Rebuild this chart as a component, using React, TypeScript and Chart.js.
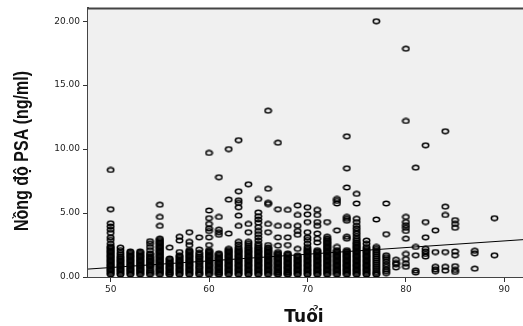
import React, { useEffect, useRef } from 'react';
import { Chart, registerables } from 'chart.js';

Chart.register(...registerables);

// Age (years) of each column of points
const ages = [50, 51, 52, 53, 54, 55, 56, 57, 58, 59, 60, 61, 62, 63, 64, 65, 66, 67, 68, 69, 70, 71, 72, 73, 74, 75, 76, 77, 78, 79, 80, 81, 82, 83, 84, 85, 87, 89];

// PSA values (ng/ml) observed at each age, same order as `ages`
const psaValues: number[][] = [
  [8.37, 5.3, 4.2, 3.95, 3.7, 3.45, 3.1, 2.9, 2.6, 2.4, 2.3, 2.2, 2.1, 2.0, 1.9, 1.8, 1.7, 1.6, 1.5, 1.4, 1.3, 1.2, 1.1, 1.0, 0.9, 0.8, 0.7, 0.6, 0.5, 0.4, 0.3, 0.2],
  [2.3, 2.1, 1.9, 1.75, 1.6, 1.5, 1.4, 1.3, 1.2, 1.1, 1.0, 0.9, 0.8, 0.7, 0.6, 0.5, 0.4, 0.3, 0.2],
  [2.0, 1.9, 1.8, 1.7, 1.6, 1.5, 1.4, 1.3, 1.2, 1.1, 1.0, 0.9, 0.8, 0.7, 0.6, 0.5, 0.4, 0.3, 0.2],
  [2.0, 1.9, 1.8, 1.7, 1.6, 1.5, 1.4, 1.3, 1.2, 1.1, 1.0, 0.9, 0.8, 0.7, 0.6, 0.5, 0.4, 0.3, 0.2],
  [2.8, 2.6, 2.35, 2.1, 1.85, 1.75, 1.6, 1.5, 1.4, 1.3, 1.2, 1.1, 1.0, 0.9, 0.8, 0.65, 0.5, 0.4, 0.3, 0.2],
  [5.65, 4.7, 4.0, 3.0, 2.9, 2.8, 2.7, 2.6, 2.5, 2.4, 2.3, 2.2, 2.1, 2.0, 1.9, 1.8, 1.7, 1.6, 1.5, 1.4, 1.3, 1.2, 1.1, 1.0, 0.9, 0.8, 0.7, 0.6, 0.5, 0.4, 0.3, 0.2],
  [2.3, 1.45, 1.35, 1.25, 1.15, 1.05, 0.95, 0.85, 0.75, 0.65, 0.55, 0.45, 0.35, 0.25, 0.2],
  [3.15, 2.85, 1.95, 1.7, 1.6, 1.5, 1.4, 1.3, 1.2, 1.1, 1.0, 0.9, 0.8, 0.7, 0.6, 0.5, 0.4, 0.3, 0.2],
  [3.5, 2.75, 2.5, 2.1, 2.0, 1.9, 1.8, 1.7, 1.6, 1.5, 1.4, 1.3, 1.2, 1.1, 1.0, 0.9, 0.8, 0.7, 0.6, 0.5, 0.4, 0.3, 0.2],
  [3.1, 2.15, 1.9, 1.75, 1.6, 1.5, 1.35, 1.2, 1.1, 0.95, 0.8, 0.7, 0.55, 0.4, 0.3, 0.2],
  [9.7, 5.2, 4.6, 4.15, 3.8, 3.6, 3.1, 2.5, 2.1, 2.0, 1.9, 1.8, 1.7, 1.6, 1.5, 1.4, 1.3, 1.2, 1.1, 1.0, 0.9, 0.8, 0.7, 0.6, 0.5, 0.4, 0.3, 0.2],
  [7.8, 4.7, 3.7, 3.5, 3.3, 1.85, 1.75, 1.65, 1.55, 1.45, 1.35, 1.25, 1.15, 1.05, 0.95, 0.85, 0.75, 0.65, 0.55, 0.45, 0.35, 0.25, 0.2],
  [10.0, 6.05, 3.4, 2.2, 2.1, 2.0, 1.9, 1.8, 1.7, 1.6, 1.5, 1.4, 1.3, 1.2, 1.1, 1.0, 0.9, 0.8, 0.7, 0.6, 0.5, 0.4, 0.3, 0.2],
  [10.7, 6.7, 6.0, 5.8, 5.45, 4.8, 4.0, 2.75, 2.55, 2.35, 2.2, 2.1, 2.0, 1.9, 1.8, 1.7, 1.6, 1.5, 1.4, 1.3, 1.2, 1.1, 1.0, 0.9, 0.8, 0.7, 0.6, 0.5, 0.4, 0.3, 0.2],
  [7.25, 4.15, 3.5, 2.75, 2.6, 2.45, 2.3, 2.2, 2.1, 2.0, 1.9, 1.8, 1.7, 1.6, 1.5, 1.4, 1.3, 1.2, 1.1, 1.0, 0.9, 0.8, 0.7, 0.6, 0.5, 0.4, 0.3, 0.2],
  [6.1, 5.05, 4.75, 4.5, 4.25, 3.9, 3.6, 3.35, 3.1, 2.85, 2.6, 2.45, 2.3, 2.2, 2.1, 2.0, 1.9, 1.8, 1.7, 1.6, 1.5, 1.4, 1.3, 1.2, 1.1, 1.0, 0.9, 0.8, 0.7, 0.6, 0.5, 0.4, 0.3, 0.2],
  [13.0, 6.9, 5.8, 5.7, 4.15, 3.5, 2.5, 2.3, 2.2, 2.1, 2.0, 1.9, 1.8, 1.7, 1.6, 1.5, 1.4, 1.3, 1.2, 1.1, 1.0, 0.9, 0.8, 0.7, 0.6, 0.5, 0.4, 0.3, 0.2],
  [10.5, 5.3, 4.0, 3.1, 2.45, 1.95, 1.85, 1.75, 1.65, 1.55, 1.45, 1.35, 1.25, 1.15, 1.05, 0.95, 0.85, 0.75, 0.65, 0.55, 0.45, 0.35, 0.25, 0.2],
  [5.25, 4.0, 3.1, 2.5, 1.85, 1.75, 1.65, 1.55, 1.45, 1.35, 1.25, 1.15, 1.05, 0.95, 0.85, 0.75, 0.65, 0.55, 0.45, 0.35, 0.25, 0.2],
  [5.6, 4.85, 4.0, 3.6, 3.3, 2.2, 1.7, 1.6, 1.5, 1.4, 1.3, 1.2, 1.1, 1.0, 0.9, 0.8, 0.7, 0.6, 0.5, 0.4, 0.3, 0.2],
  [5.45, 4.9, 4.3, 3.5, 3.1, 2.9, 2.6, 2.35, 2.2, 2.1, 2.0, 1.9, 1.8, 1.7, 1.6, 1.5, 1.4, 1.3, 1.2, 1.1, 1.0, 0.9, 0.8, 0.7, 0.6, 0.5, 0.4, 0.3, 0.2],
  [5.25, 4.85, 4.3, 4.0, 3.4, 3.0, 2.7, 2.1, 2.0, 1.9, 1.8, 1.7, 1.6, 1.5, 1.4, 1.3, 1.2, 1.1, 1.0, 0.9, 0.8, 0.7, 0.6, 0.5, 0.4, 0.3, 0.2],
  [4.3, 3.15, 3.0, 2.9, 2.8, 2.7, 2.6, 2.5, 2.4, 2.3, 2.2, 2.1, 2.0, 1.9, 1.8, 1.7, 1.6, 1.5, 1.4, 1.3, 1.2, 1.1, 1.0, 0.9, 0.8, 0.7, 0.6, 0.5, 0.4, 0.3, 0.2],
  [6.1, 5.95, 5.75, 3.65, 2.35, 2.1, 2.0, 1.9, 1.8, 1.7, 1.6, 1.5, 1.4, 1.3, 1.2, 1.1, 1.0, 0.9, 0.8, 0.7, 0.6, 0.5, 0.4, 0.3, 0.2],
  [11.0, 8.5, 7.0, 4.7, 4.55, 4.4, 3.15, 3.0, 2.1, 2.0, 1.9, 1.8, 1.7, 1.6, 1.5, 1.4, 1.3, 1.2, 1.1, 1.0, 0.9, 0.8, 0.7, 0.6, 0.5, 0.4, 0.3, 0.2],
  [6.5, 5.75, 4.55, 4.3, 4.0, 3.8, 3.6, 3.4, 3.2, 3.0, 2.85, 2.7, 2.6, 2.5, 2.4, 2.3, 2.2, 2.1, 2.0, 1.9, 1.8, 1.7, 1.6, 1.5, 1.4, 1.3, 1.2, 1.1, 1.0, 0.9, 0.8, 0.7, 0.6, 0.5, 0.4, 0.3, 0.2],
  [2.85, 2.6, 2.35, 2.2, 2.1, 2.0, 1.9, 1.8, 1.7, 1.6, 1.5, 1.4, 1.3, 1.2, 1.1, 1.0, 0.9, 0.8, 0.7, 0.6, 0.5, 0.4, 0.3, 0.2],
  [20.0, 4.5, 2.35, 2.2, 2.05, 1.9, 1.75, 1.6, 1.45, 1.3, 1.15, 1.0, 0.85, 0.7, 0.55, 0.4, 0.3, 0.2],
  [5.75, 3.35, 1.7, 1.55, 1.4, 1.2, 1.0, 0.8, 0.6, 0.45, 0.3],
  [1.35, 1.1, 1.0, 0.75],
  [17.85, 12.2, 4.7, 4.3, 4.05, 3.85, 3.6, 3.0, 1.8, 1.4, 1.05, 0.8],
  [8.55, 2.35, 1.7, 0.5, 0.35],
  [10.3, 4.3, 3.1, 2.2, 2.0, 1.8, 1.6],
  [3.65, 1.95, 0.8, 0.6, 0.45],
  [11.4, 5.5, 4.85, 1.95, 0.8, 0.5],
  [4.45, 4.15, 3.85, 2.0, 1.7, 0.85, 0.55, 0.4],
  [2.05, 1.85, 0.65],
  [4.6, 1.7],
];

// Linear fit line end points (age, PSA)
const fitAges = [47.7, 91.9];
const fitPsa = [0.62, 2.92];

const xTickValues = [50, 60, 70, 80, 90];
const yTickValues = [0, 5, 10, 15, 20];
const xMin = 47.7;
const xMax = 91.9;
const yMin = 0;
const yMax = 21;

const xTitle = 'Tuổi';
const yTitle = 'Nồng độ PSA (ng/ml)';

export default function App() {
  const canvasRef = useRef<HTMLCanvasElement | null>(null);

  useEffect(() => {
    const canvas = canvasRef.current;
    if (!canvas) return;

    const marker = document.createElement('canvas');
    marker.width = 9;
    marker.height = 7;
    const mctx = marker.getContext('2d');
    if (mctx) {
      mctx.strokeStyle = '#000';
      mctx.lineWidth = 1.5;
      mctx.beginPath();
      mctx.ellipse(4.5, 3.5, 3.2, 2.3, 0, 0, Math.PI * 2);
      mctx.stroke();
    }

    const points = ages.flatMap((a, i) => psaValues[i].map((v) => ({ x: a, y: v })));
    const fitPoints = fitAges.map((a, i) => ({ x: a, y: fitPsa[i] }));

    const framePlugin = {
      id: 'frame',
      beforeDatasetsDraw(chart: any) {
        const { ctx, chartArea } = chart;
        ctx.save();
        ctx.fillStyle = '#f0f0f0';
        ctx.fillRect(chartArea.left, chartArea.top, chartArea.right - chartArea.left, chartArea.bottom - chartArea.top);
        ctx.restore();
      },
      afterDraw(chart: any) {
        const { ctx, chartArea } = chart;
        ctx.save();
        ctx.strokeStyle = '#444';
        ctx.lineWidth = 2;
        ctx.beginPath();
        ctx.moveTo(chartArea.left, chartArea.top);
        ctx.lineTo(chartArea.right, chartArea.top);
        ctx.stroke();

        // y axis title (condensed bold)
        ctx.fillStyle = '#111';
        ctx.translate(28, 151);
        ctx.rotate(-Math.PI / 2);
        ctx.scale(0.8, 1);
        ctx.font = 'bold 20px "Liberation Sans", Arial, sans-serif';
        ctx.textAlign = 'center';
        ctx.textBaseline = 'alphabetic';
        ctx.fillText(yTitle, 0, 0);
        ctx.restore();

        ctx.save();
        ctx.fillStyle = '#111';
        ctx.font = 'bold 17px "DejaVu Sans", sans-serif';
        ctx.textAlign = 'center';
        ctx.textBaseline = 'alphabetic';
        ctx.fillText(xTitle, 304, 322);
        ctx.restore();
      },
    };

    const chart = new Chart(canvas, {
      type: 'scatter',
      data: {
        datasets: [
          {
            type: 'line',
            data: fitPoints,
            borderColor: '#000',
            borderWidth: 1,
            pointRadius: 0,
            fill: false,
          } as any,
          {
            type: 'scatter',
            data: points,
            pointStyle: marker as any,
            pointRadius: 3,
            pointHoverRadius: 3,
          },
        ],
      },
      options: {
        animation: false,
        responsive: true,
        maintainAspectRatio: false,
        layout: { autoPadding: false, padding: { top: 6, right: 0, left: 0, bottom: 0 } },
        plugins: { legend: { display: false }, tooltip: { enabled: false } },
        scales: {
          x: {
            type: 'linear',
            min: xMin,
            max: xMax,
            afterBuildTicks: (s: any) => {
              s.ticks = xTickValues.map((v) => ({ value: v }));
            },
            afterFit: (s: any) => {
              s.height = 49;
            },
            ticks: {
              font: { family: '"DejaVu Sans", sans-serif', size: 9 },
              color: '#222',
              padding: 2,
              maxRotation: 0,
              autoSkip: false,
              callback: (v: any) => String(v),
            },
            grid: { drawOnChartArea: false, drawTicks: true, tickLength: 5, color: '#333' },
            border: { display: true, color: '#444', width: 2 },
          },
          y: {
            type: 'linear',
            min: yMin,
            max: yMax,
            afterBuildTicks: (s: any) => {
              s.ticks = yTickValues.map((v) => ({ value: v }));
            },
            afterFit: (s: any) => {
              s.width = 88;
            },
            ticks: {
              font: { family: '"DejaVu Sans", sans-serif', size: 9 },
              color: '#222',
              padding: 3,
              autoSkip: false,
              callback: (v: any) => Number(v).toFixed(2),
            },
            grid: { drawOnChartArea: false, drawTicks: true, tickLength: 5, color: '#333' },
            border: { display: true, color: '#444', width: 2 },
          },
        },
      },
      plugins: [framePlugin],
    });

    return () => chart.destroy();
  }, []);

  return (
    <div style={{ position: 'fixed', left: 0, top: 0, width: 523, height: 326, background: '#fff' }}>
      <canvas ref={canvasRef} />
    </div>
  );
}
